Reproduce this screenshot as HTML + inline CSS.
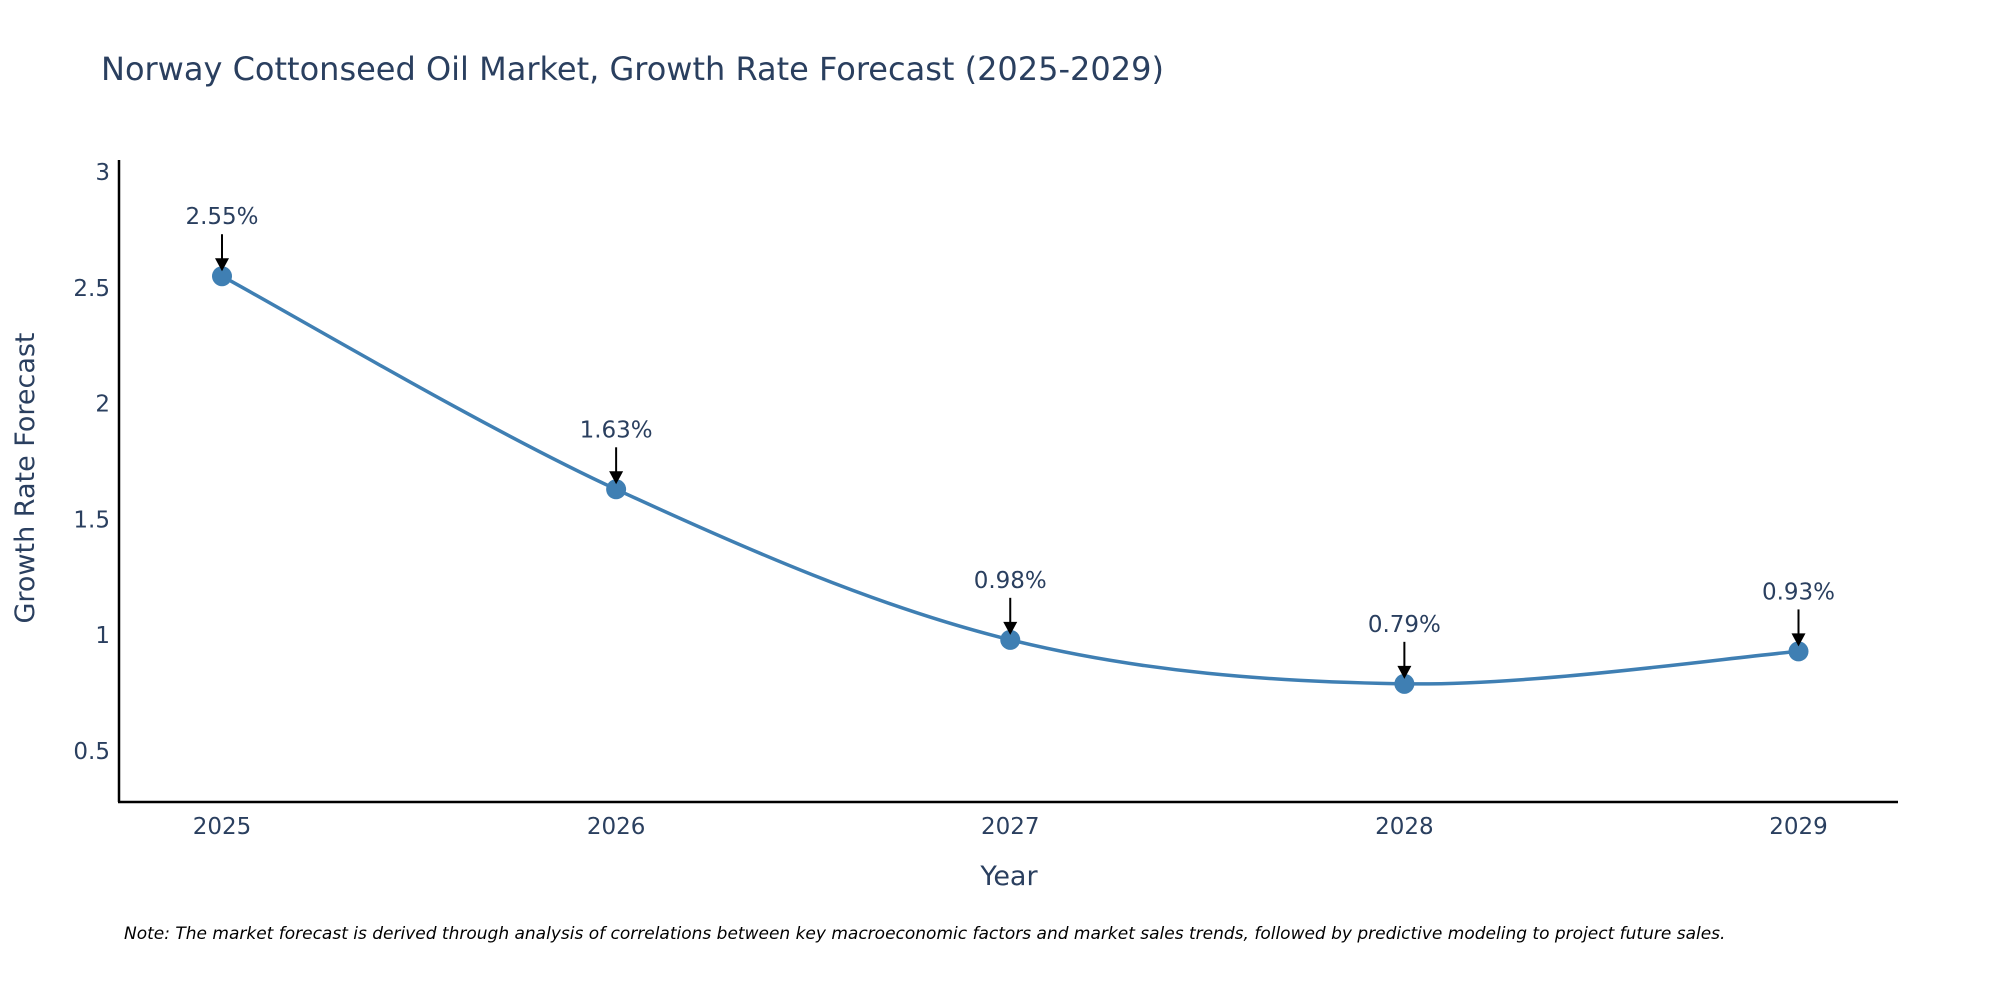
<!DOCTYPE html>
<html><head><meta charset="utf-8"><style>
body{margin:0;background:#fff;}
svg{display:block;font-family:"DejaVu Sans","Liberation Sans",sans-serif;}
</style></head><body>
<svg id="chart" width="2000" height="1000">
<text x="101" y="80" font-size="32" fill="#2a3f5f">Norway Cottonseed Oil Market, Growth Rate Forecast (2025-2029)</text>
<g id="yticks"></g>
<g id="xticks"></g>
<line x1="119" y1="160" x2="119" y2="802" stroke="#000" stroke-width="2.5"/>
<line x1="118" y1="802" x2="1898" y2="802" stroke="#000" stroke-width="2.5"/>
<path id="line" fill="none" stroke="#3f7fb3" stroke-width="3.5"/>
<g id="marks"></g>
<text x="1009" y="885" font-size="27" fill="#2a3f5f" text-anchor="middle">Year</text>
<text transform="translate(34,478) rotate(-90)" font-size="27" fill="#2a3f5f" text-anchor="middle">Growth Rate Forecast</text>
<text x="124" y="939" font-size="17" font-style="italic" fill="#000">Note: The market forecast is derived through analysis of correlations between key macroeconomic factors and market sales trends, followed by predictive modeling to project future sales.</text>
</svg>
<script>
const years = [2025, 2026, 2027, 2028, 2029];
const values = [2.55, 1.63, 0.98, 0.79, 0.93];
const labels = ["2.55%", "1.63%", "0.98%", "0.79%", "0.93%"];
const yTicks = [0.5, 1, 1.5, 2, 2.5, 3];
const NS = "http://www.w3.org/2000/svg";
function xs(v){return 222 + (v - 2025) * (1798.5 - 222) / 4;}
function ys(v){return 751 - (v - 0.5) * (751 - 172) / 2.5;}
function mk(tag, attrs, parent){const e=document.createElementNS(NS,tag);for(const k in attrs)e.setAttribute(k,attrs[k]);parent.appendChild(e);return e;}
const yg=document.getElementById('yticks'), xg=document.getElementById('xticks'), mg=document.getElementById('marks');
yTicks.forEach(t=>{
  const e=mk('text',{x:110,y:ys(t)+8,'font-size':23,fill:'#2a3f5f','text-anchor':'end'},yg);
  
  
  e.textContent=String(t);
});
years.forEach(y=>{
  const e=mk('text',{x:xs(y),y:834,'font-size':23,fill:'#2a3f5f','text-anchor':'middle'},xg);
  
  
  e.textContent=String(y);
});
const pts=years.map((y,i)=>[xs(y),ys(values[i])]);
let d='M'+pts[0][0]+','+pts[0][1];
for(let i=0;i<pts.length-1;i++){
  const p0=pts[i-1]||pts[i],p1=pts[i],p2=pts[i+1],p3=pts[i+2]||p2;
  const c1=[p1[0]+(p2[0]-p0[0])/6,p1[1]+(p2[1]-p0[1])/6];
  const c2=[p2[0]-(p3[0]-p1[0])/6,p2[1]-(p3[1]-p1[1])/6];
  d+=' C'+c1+' '+c2+' '+p2;
}
document.getElementById('line').setAttribute('d',d);
pts.forEach((p,i)=>{
  const c=mk('circle',{cx:p[0],cy:p[1],r:10,fill:'#3f7fb3'},mg);
  
  
  const a=mk('line',{x1:p[0],y1:p[1]-42,x2:p[0],y2:p[1]-14,stroke:'#000','stroke-width':2},mg);
  
  
  const h=mk('polygon',{points:`${p[0]-7},${p[1]-18} ${p[0]+7},${p[1]-18} ${p[0]},${p[1]-5}`,fill:'#000'},mg);
  
  
  const t=mk('text',{x:p[0],y:p[1]-52,'font-size':23,fill:'#2a3f5f','text-anchor':'middle'},mg);
  
  
  t.textContent=labels[i];
});
</script>
</body></html>
